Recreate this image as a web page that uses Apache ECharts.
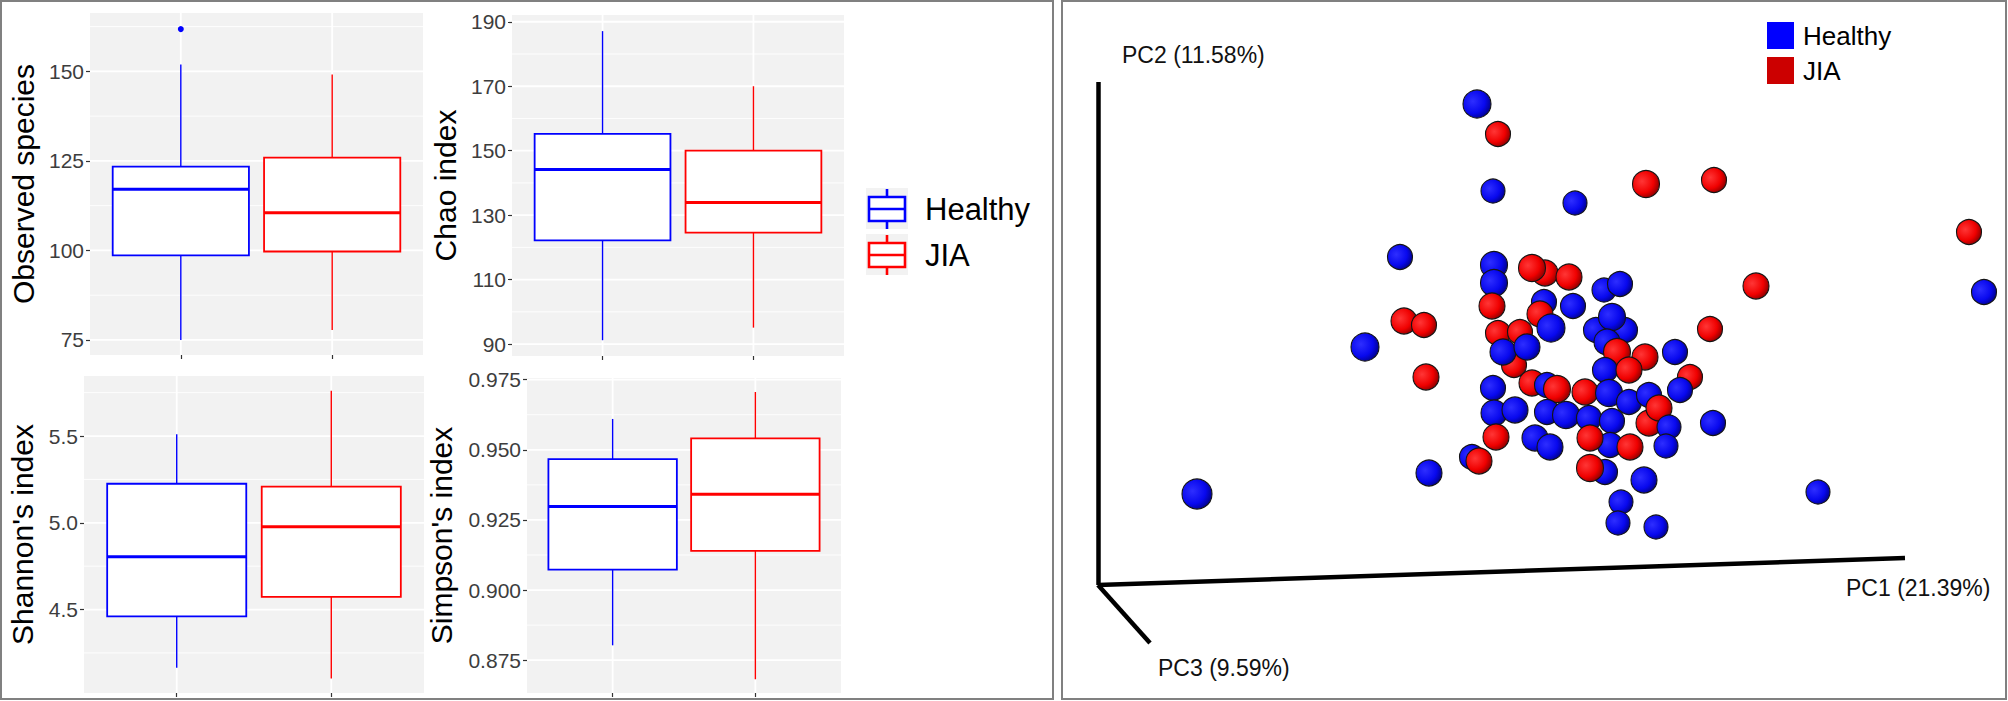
<!DOCTYPE html>
<html>
<head>
<meta charset="utf-8">
<title>Alpha diversity and PCoA</title>
<script src="https://cdn.jsdelivr.net/npm/echarts@6/dist/echarts.min.js"></script>
<style>
    html, body { margin: 0; padding: 0; background: #fff; }
    #main { width: 2008px; height: 701px; }
</style>
</head>
<body>
<div id="main"></div>
<script>
// groups and box colours
var groups = ['Healthy', 'JIA'];
var boxColors = ['#0000FF', '#FF0000'];

// [lower whisker, Q1, median, Q3, upper whisker]
var observedHealthy = [75, 98.6, 117.1, 123.4, 151.9];
var observedJIA = [77.8, 99.7, 110.5, 125.9, 149.1];
var observedOutliers = [161.8];
var chaoHealthy = [91.2, 122.2, 144.2, 155.2, 187.1];
var chaoJIA = [95.1, 124.6, 133.9, 150, 170];
var shannonHealthy = [4.165, 4.461, 4.804, 5.225, 5.51];
var shannonJIA = [4.102, 4.573, 4.977, 5.208, 5.761];
var simpsonHealthy = [0.8803, 0.9073, 0.9298, 0.9467, 0.961];
var simpsonJIA = [0.8682, 0.914, 0.9342, 0.9541, 0.9706];

// tick labels and minor grid lines
var observedTicks = [75, 100, 125, 150];
var observedMinor = [87.5, 112.5, 137.5, 162.5];
var chaoTicks = [90, 110, 130, 150, 170, 190];
var chaoMinor = [100, 120, 140, 160, 180];
var shannonTicks = [4.5, 5.0, 5.5];
var shannonMinor = [4.25, 4.75, 5.25, 5.75];
var simpsonTicks = [0.875, 0.9, 0.925, 0.95, 0.975];
var simpsonMinor = [0.8875, 0.9125, 0.9375, 0.9625];

// PCoA projected positions (origin = corner of the 3D axes)
var pcX = [379, 400, 395, 477, 548, 616, 871, 886, 658, 612, 302, 306, 326, 267, 328, 99, 331, 374, 381, 720,
    615, 546, 523, 520, 558, 577, 592, 582, 396, 396, 447, 434, 471, 394, 446, 442, 453, 475, 506, 522,
    498, 527, 514, 509, 400, 422, 416, 405, 429, 519, 547, 507, 531, 395, 396, 417, 398, 434, 449, 459,
    487, 511, 531, 551, 551, 561, 571, 568, 449, 468, 491, 514, 437, 452, 512, 492, 532, 507, 492];
var pcY = [481, 451, 394, 382, 401, 405, 353, 293, 299, 256, 328, 264, 260, 238, 208, 91, 112, 128, 124, 93,
    162, 105, 83, 62, 58, 233, 208, 195, 320, 302, 312, 317, 308, 279, 283, 271, 257, 279, 295, 301,
    255, 255, 268, 243, 252, 253, 220, 233, 238, 233, 228, 215, 215, 197, 172, 175, 148, 202, 200, 196,
    193, 192, 183, 190, 162, 177, 158, 139, 173, 170, 167, 164, 147, 138, 140, 147, 138, 113, 117];
var pcSize = [28, 25, 24, 24, 27, 25, 25, 25, 26, 25, 25, 26, 25, 28, 26, 30, 26, 25, 26, 24,
    25, 26, 24, 24, 24, 25, 25, 25, 27, 27, 26, 27, 26, 26, 25, 26, 28, 25, 24, 25,
    25, 25, 27, 26, 25, 25, 25, 26, 26, 27, 26, 25, 26, 25, 26, 26, 26, 26, 25, 27,
    26, 27, 25, 25, 26, 26, 24, 24, 25, 27, 25, 25, 26, 26, 25, 26, 26, 25, 27];
var pcGroup = ['H', 'J', 'H', 'H', 'J', 'J', 'J', 'H', 'J', 'J', 'H', 'J', 'J', 'H', 'J', 'H', 'H', 'H', 'J', 'H',
    'H', 'H', 'H', 'H', 'H', 'H', 'J', 'H', 'H', 'H', 'J', 'J', 'J', 'J', 'H', 'J', 'H', 'H', 'H', 'H',
    'H', 'H', 'H', 'H', 'J', 'J', 'J', 'H', 'H', 'J', 'J', 'H', 'J', 'H', 'H', 'H', 'J', 'J', 'H', 'J',
    'J', 'H', 'H', 'H', 'J', 'J', 'H', 'H', 'H', 'H', 'H', 'H', 'H', 'H', 'H', 'J', 'J', 'H', 'J'];

// 3D axes: end points from the origin, and their titles
var axisEndX = [807, 0, 52];
var axisEndY = [27, 503, -58];
var axisTitles = ['PC1 (21.39%)', 'PC2 (11.58%)', 'PC3 (9.59%)'];
var axisTitleX = [748, 24, 60];
var axisTitleY = [-3, 530, -83];

var FONT = 'Liberation Sans, Arial, sans-serif';

var panels = [
    { name: 'Observed species', grid: { left: 90, top: 13, width: 333, height: 342 }, min: 70.8, max: 166.3,
        ticks: observedTicks, minor: observedMinor, boxes: [observedHealthy, observedJIA], digits: 0, nameGap: 52 },
    { name: 'Chao index', grid: { left: 512, top: 15, width: 332, height: 341 }, min: 86.3, max: 192.1,
        ticks: chaoTicks, minor: chaoMinor, boxes: [chaoHealthy, chaoJIA], digits: 0, nameGap: 52 },
    { name: "Shannon's index", grid: { left: 84, top: 376, width: 340, height: 317 }, min: 4.019, max: 5.846,
        ticks: shannonTicks, minor: shannonMinor, boxes: [shannonHealthy, shannonJIA], digits: 1, nameGap: 47 },
    { name: "Simpson's index", grid: { left: 527, top: 378, width: 314, height: 315 }, min: 0.8633, max: 0.9756,
        ticks: simpsonTicks, minor: simpsonMinor, boxes: [simpsonHealthy, simpsonJIA], digits: 3, nameGap: 71 }
];

var renderGridLine = function (params, api) {
    var cs = params.coordSys;
    var p = api.coord([api.value(0), api.value(1)]);
    var kind = api.value(2);
    var w = kind === 1 ? 0.9 : 1.8;
    if (kind === 2) {
        return { type: 'line', shape: { x1: p[0], y1: cs.y, x2: p[0], y2: cs.y + cs.height },
            style: { stroke: '#ffffff', lineWidth: w } };
    }
    return { type: 'line', shape: { x1: cs.x, y1: p[1], x2: cs.x + cs.width, y2: p[1] },
        style: { stroke: '#ffffff', lineWidth: w } };
};

var renderBox = function (params, api) {
    var x = api.value(0);
    var c = boxColors[params.dataIndex];
    var tl = api.coord([x - 0.45, api.value(4)]);
    var br = api.coord([x + 0.45, api.value(2)]);
    var med = api.coord([x, api.value(3)]);
    var hi = api.coord([x, api.value(5)]);
    var lo = api.coord([x, api.value(1)]);
    return {
        type: 'group',
        children: [
            { type: 'line', shape: { x1: med[0], y1: hi[1], x2: med[0], y2: tl[1] }, style: { stroke: c, lineWidth: 1.4 } },
            { type: 'line', shape: { x1: med[0], y1: br[1], x2: med[0], y2: lo[1] }, style: { stroke: c, lineWidth: 1.4 } },
            { type: 'rect', shape: { x: tl[0], y: tl[1], width: br[0] - tl[0], height: br[1] - tl[1] },
                style: { fill: '#ffffff', stroke: c, lineWidth: 1.8 } },
            { type: 'line', shape: { x1: tl[0], y1: med[1], x2: br[0], y2: med[1] }, style: { stroke: c, lineWidth: 3 } }
        ]
    };
};

var grids = [], xAxes = [], yAxes = [], series = [];

panels.forEach(function (p, i) {
    grids.push({ left: p.grid.left, top: p.grid.top, width: p.grid.width, height: p.grid.height,
        show: true, backgroundColor: '#F2F2F2', borderWidth: 0 });
    xAxes.push({
        gridIndex: i, type: 'value', min: 0.4, max: 2.6,
        axisLine: { show: false }, splitLine: { show: false },
        axisLabel: { show: false },
        axisTick: { show: true, length: 4, customValues: [1, 2], lineStyle: { color: '#333', width: 1.2 } }
    });
    var digits = p.digits;
    yAxes.push({
        gridIndex: i, type: 'value', min: p.min, max: p.max,
        name: p.name, nameLocation: 'middle', nameGap: p.nameGap, nameRotate: 90,
        nameTextStyle: { fontSize: 30, color: '#000', fontFamily: FONT },
        axisLine: { show: false }, splitLine: { show: false },
        axisTick: { show: true, length: 4, customValues: p.ticks, lineStyle: { color: '#333', width: 1.2 } },
        axisLabel: { customValues: p.ticks, fontSize: 21, color: '#3d3d3d', fontFamily: FONT, margin: 6,
            formatter: function (v) { return Number(v).toFixed(digits); } }
    });

    var mid = (p.min + p.max) / 2;
    var lines = [];
    p.minor.forEach(function (v) { lines.push([1, v, 1]); });
    p.ticks.forEach(function (v) { lines.push([1, v, 0]); });
    lines.push([1, mid, 2]);
    lines.push([2, mid, 2]);
    series.push({ type: 'custom', xAxisIndex: i, yAxisIndex: i, z: 1, silent: true,
        renderItem: renderGridLine, data: lines, clip: true });

    series.push({ type: 'custom', name: p.name, xAxisIndex: i, yAxisIndex: i, z: 2,
        renderItem: renderBox, encode: { x: 0, y: [1, 2, 3, 4, 5] },
        data: p.boxes.map(function (b, k) { return [k + 1].concat(b); }) });
});

series.push({ type: 'scatter', xAxisIndex: 0, yAxisIndex: 0, z: 3, symbolSize: 6,
    itemStyle: { color: boxColors[0], opacity: 1 },
    data: observedOutliers.map(function (v) { return [1, v]; }) });

// PCoA panel
grids.push({ left: 1064, top: 2, width: 942, height: 697 });
xAxes.push({ gridIndex: 4, type: 'value', min: -34, max: 908, show: false });
yAxes.push({ gridIndex: 4, type: 'value', min: -114, max: 583, show: false });

var ballColor = function (base, mid, dark) {
    return { type: 'radial', x: 0.35, y: 0.4, r: 0.72,
        colorStops: [{ offset: 0, color: base }, { offset: 0.6, color: mid }, { offset: 1, color: dark }] };
};
var blueBall = ballColor('#2e2eff', '#0808ee', '#00007a');
var redBall = ballColor('#ff3636', '#f00000', '#7a0000');

series.push({
    type: 'lines', coordinateSystem: 'cartesian2d', xAxisIndex: 4, yAxisIndex: 4, z: 2, silent: true,
    lineStyle: { color: '#000', width: 4.5, opacity: 1 },
    data: axisEndX.map(function (x, i) { return { coords: [[0, 0], [x, axisEndY[i]]] }; })
});
series.push({
    type: 'scatter', xAxisIndex: 4, yAxisIndex: 4, z: 4, silent: true, symbolSize: 0,
    itemStyle: { color: 'rgba(0,0,0,0)', opacity: 1 },
    label: { show: true, position: 'right', distance: 0, formatter: '{b}', fontSize: 23, color: '#111', fontFamily: FONT },
    data: axisTitles.map(function (t, i) { return { name: t, value: [axisTitleX[i], axisTitleY[i]] }; })
});
series.push({
    type: 'scatter', xAxisIndex: 4, yAxisIndex: 4, z: 3,
    symbolSize: function (val) { return val[2]; },
    data: pcX.map(function (x, i) {
        return { value: [x, pcY[i], pcSize[i]],
            itemStyle: { color: pcGroup[i] === 'H' ? blueBall : redBall, opacity: 1,
                borderColor: '#141414', borderWidth: 1.1 } };
    })
});

// legends and frames
var graphic = [
    { type: 'rect', shape: { x: 1, y: 1, width: 1052, height: 698 }, style: { fill: 'none', stroke: '#808080', lineWidth: 2 } },
    { type: 'rect', shape: { x: 1062, y: 1, width: 944, height: 698 }, style: { fill: 'none', stroke: '#808080', lineWidth: 2 } }
];
groups.forEach(function (g, i) {
    var y0 = 188 + i * 46;
    var c = boxColors[i];
    graphic.push({ type: 'rect', shape: { x: 866, y: y0, width: 42, height: 41 }, style: { fill: '#F2F2F2' } });
    graphic.push({ type: 'line', shape: { x1: 887, y1: y0 + 1, x2: 887, y2: y0 + 41 }, style: { stroke: c, lineWidth: 2.6 } });
    graphic.push({ type: 'rect', shape: { x: 869, y: y0 + 9, width: 36, height: 24 }, style: { fill: '#fff', stroke: c, lineWidth: 2.6 } });
    graphic.push({ type: 'line', shape: { x1: 869, y1: y0 + 21, x2: 905, y2: y0 + 21 }, style: { stroke: c, lineWidth: 2.6 } });
    graphic.push({ type: 'text', x: 925, y: y0 + 21,
        style: { text: g, fontSize: 31, fill: '#000', fontFamily: FONT, verticalAlign: 'middle' } });

    graphic.push({ type: 'rect', shape: { x: 1767, y: 22 + i * 35, width: 27, height: 27 },
        style: { fill: i === 0 ? '#0000FF' : '#CC0000' } });
    graphic.push({ type: 'text', x: 1803, y: 36 + i * 35,
        style: { text: g, fontSize: 26, fill: '#000', fontFamily: FONT, verticalAlign: 'middle' } });
});

var chart = echarts.init(document.getElementById('main'), null, { renderer: 'svg' });
chart.setOption({
    backgroundColor: '#ffffff',
    animation: false,
    grid: grids,
    xAxis: xAxes,
    yAxis: yAxes,
    series: series,
    graphic: graphic
});
</script>
</body>
</html>
